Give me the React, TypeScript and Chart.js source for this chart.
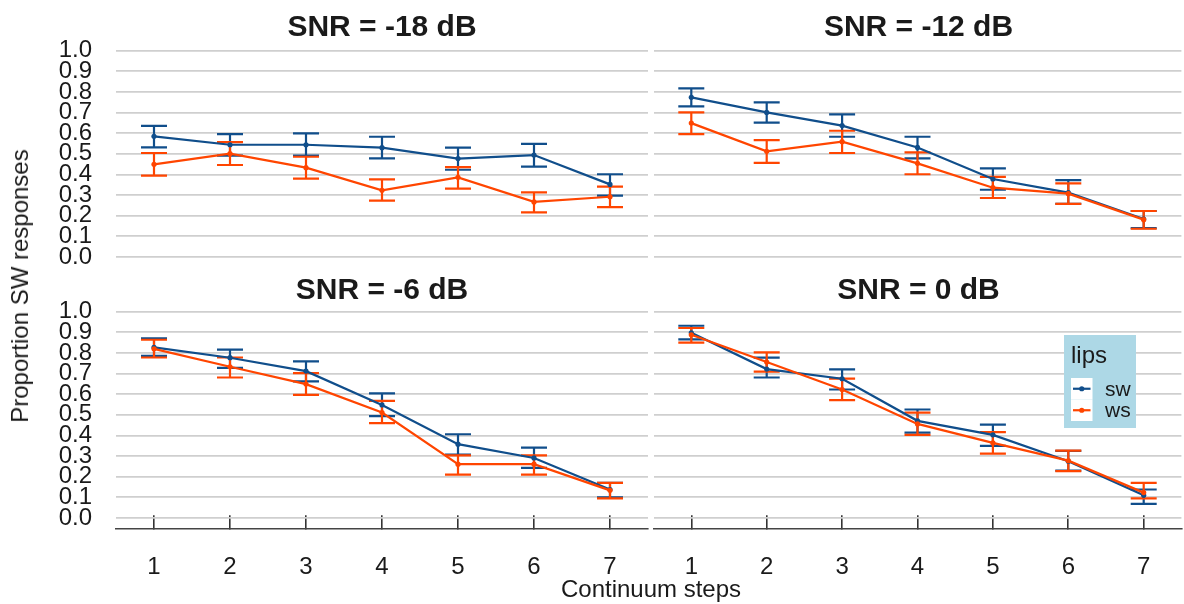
import React, { useEffect, useRef } from 'react';
import { Chart, registerables } from 'chart.js';

Chart.register(...registerables);

// ---------- data ----------
const STEPS = [1, 2, 3, 4, 5, 6, 7];
const Y_TICKS = [0, 0.1, 0.2, 0.3, 0.4, 0.5, 0.6, 0.7, 0.8, 0.9, 1.0];
const PANEL_TITLES = ['SNR = -18 dB', 'SNR = -12 dB', 'SNR = -6 dB', 'SNR = 0 dB'];
const SERIES_NAMES = ['sw', 'ws'];
const LEGEND_TITLE = 'lips';
const X_TITLE = 'Continuum steps';
const Y_TITLE = 'Proportion SW responses';

// SNR = -18 dB
const SW_M18 = [0.585, 0.544, 0.544, 0.530, 0.477, 0.494, 0.352];
const SW_M18_LO = [0.531, 0.491, 0.491, 0.478, 0.423, 0.438, 0.297];
const SW_M18_HI = [0.636, 0.596, 0.599, 0.583, 0.530, 0.548, 0.401];
const WS_M18 = [0.449, 0.501, 0.433, 0.323, 0.386, 0.267, 0.292];
const WS_M18_LO = [0.394, 0.446, 0.380, 0.273, 0.331, 0.216, 0.242];
const WS_M18_HI = [0.504, 0.557, 0.486, 0.376, 0.436, 0.313, 0.341];

// SNR = -12 dB
const SW_M12 = [0.774, 0.701, 0.637, 0.531, 0.378, 0.312, 0.184];
const SW_M12_LO = [0.730, 0.651, 0.583, 0.478, 0.326, 0.258, 0.140];
const SW_M12_HI = [0.817, 0.750, 0.691, 0.583, 0.430, 0.373, 0.223];
const WS_M12 = [0.649, 0.512, 0.559, 0.454, 0.336, 0.307, 0.181];
const WS_M12_LO = [0.596, 0.456, 0.504, 0.401, 0.286, 0.257, 0.137];
const WS_M12_HI = [0.701, 0.567, 0.612, 0.507, 0.388, 0.357, 0.223];

// SNR = -6 dB
const SW_M6 = [0.827, 0.777, 0.712, 0.548, 0.358, 0.291, 0.138];
const SW_M6_LO = [0.786, 0.728, 0.662, 0.494, 0.307, 0.243, 0.100];
const SW_M6_HI = [0.871, 0.816, 0.759, 0.604, 0.406, 0.341, 0.170];
const WS_M6 = [0.820, 0.733, 0.649, 0.511, 0.261, 0.261, 0.134];
const WS_M6_LO = [0.778, 0.681, 0.597, 0.460, 0.210, 0.210, 0.095];
const WS_M6_HI = [0.864, 0.778, 0.702, 0.568, 0.304, 0.304, 0.170];

// SNR = 0 dB
const SW_0 = [0.898, 0.722, 0.675, 0.471, 0.403, 0.275, 0.110];
const SW_0_LO = [0.866, 0.681, 0.623, 0.414, 0.350, 0.230, 0.068];
const SW_0_HI = [0.932, 0.777, 0.720, 0.526, 0.453, 0.325, 0.138];
const WS_0 = [0.888, 0.756, 0.623, 0.456, 0.364, 0.278, 0.123];
const WS_0_LO = [0.850, 0.710, 0.571, 0.403, 0.312, 0.227, 0.095];
const WS_0_HI = [0.921, 0.803, 0.676, 0.511, 0.416, 0.327, 0.170];

// ---------- styles ----------
const COLORS = ['#104E8B', '#FF4500'];
const FONT = '"Liberation Sans", Arial, sans-serif';
const TEXT = '#1a1a1a';

Chart.defaults.font.family = FONT;

const errorBarPlugin = {
  id: 'errorBars',
  beforeDatasetsDraw(chart: any) {
    const ctx = chart.ctx;
    const xs = chart.scales.x;
    const ys = chart.scales.y;
    const list = [...chart.data.datasets].sort((a: any, b: any) => b.order - a.order);
    list.forEach((ds: any) => {
      ctx.save();
      ctx.strokeStyle = ds.borderColor;
      ctx.lineWidth = 2.2;
      ds.data.forEach((p: any, i: number) => {
        const x = xs.getPixelForValue(p.x);
        const y1 = ys.getPixelForValue(ds.errLow[i]);
        const y2 = ys.getPixelForValue(ds.errHigh[i]);
        const w = 13;
        ctx.beginPath();
        ctx.moveTo(x, y1);
        ctx.lineTo(x, y2);
        ctx.moveTo(x - w, y1);
        ctx.lineTo(x + w, y1);
        ctx.moveTo(x - w, y2);
        ctx.lineTo(x + w, y2);
        ctx.stroke();
      });
      ctx.restore();
    });
  },
};

const legendPlugin = {
  id: 'lipsLegend',
  afterDraw(chart: any, _args: any, opts: any) {
    if (!opts || !opts.show) return;
    const ctx = chart.ctx;
    const { x, y, w, h } = opts.box;
    ctx.save();
    ctx.fillStyle = '#ADD8E6';
    ctx.fillRect(x, y, w, h);
    ctx.fillStyle = TEXT;
    ctx.textAlign = 'left';
    ctx.textBaseline = 'middle';
    ctx.font = `24px ${FONT}`;
    ctx.fillText(opts.title, x + 7, y + 21);
    chart.data.datasets.forEach((ds: any, i: number) => {
      const ky = y + 43 + i * 21.5;
      ctx.fillStyle = '#ffffff';
      ctx.fillRect(x + 7, ky, 21.5, 21.5);
      ctx.strokeStyle = ds.borderColor;
      ctx.lineWidth = 2.2;
      ctx.beginPath();
      ctx.moveTo(x + 9, ky + 10.75);
      ctx.lineTo(x + 26.5, ky + 10.75);
      ctx.stroke();
      ctx.fillStyle = ds.borderColor;
      ctx.beginPath();
      ctx.arc(x + 17.75, ky + 10.75, 2.6, 0, Math.PI * 2);
      ctx.fill();
      ctx.fillStyle = TEXT;
      ctx.font = `21px ${FONT}`;
      ctx.fillText(ds.label, x + 41, ky + 12);
    });
    ctx.restore();
  },
};

type PanelLayout = {
  left: number; top: number; w: number; h: number;
  pad: { top: number; right: number; bottom: number; left: number };
  yWidth: number; yLabels: boolean; xAxis: boolean; xHeight: number;
  legend: boolean;
};

const LAYOUT: PanelLayout[] = [
  { left: 0, top: 0, w: 651, h: 290, pad: { top: 40.4, right: 3, bottom: 22.7, left: 0 }, yWidth: 116, yLabels: true, xAxis: false, xHeight: 0, legend: false },
  { left: 651, top: 0, w: 533, h: 290, pad: { top: 40.4, right: 0, bottom: 22.7, left: 0 }, yWidth: 2, yLabels: false, xAxis: false, xHeight: 0, legend: false },
  { left: 0, top: 280, w: 651, h: 324, pad: { top: 21.4, right: 3, bottom: 0, left: 0 }, yWidth: 116, yLabels: true, xAxis: true, xHeight: 75.7, legend: false },
  { left: 651, top: 280, w: 533, h: 324, pad: { top: 21.4, right: 0, bottom: 0, left: 0 }, yWidth: 2, yLabels: false, xAxis: true, xHeight: 75.7, legend: true },
];

const PANEL_DATA = [
  { sw: SW_M18, swLo: SW_M18_LO, swHi: SW_M18_HI, ws: WS_M18, wsLo: WS_M18_LO, wsHi: WS_M18_HI },
  { sw: SW_M12, swLo: SW_M12_LO, swHi: SW_M12_HI, ws: WS_M12, wsLo: WS_M12_LO, wsHi: WS_M12_HI },
  { sw: SW_M6, swLo: SW_M6_LO, swHi: SW_M6_HI, ws: WS_M6, wsLo: WS_M6_LO, wsHi: WS_M6_HI },
  { sw: SW_0, swLo: SW_0_LO, swHi: SW_0_HI, ws: WS_0, wsLo: WS_0_LO, wsHi: WS_0_HI },
];

function makeDataset(label: string, color: string, vals: number[], lo: number[], hi: number[], order: number) {
  return {
    label,
    data: STEPS.map((s, i) => ({ x: s, y: vals[i] })),
    borderColor: color,
    backgroundColor: color,
    pointBackgroundColor: color,
    pointBorderWidth: 0,
    pointRadius: 2.6,
    pointHoverRadius: 2.6,
    borderWidth: 2.2,
    tension: 0,
    order,
    errLow: lo,
    errHigh: hi,
  };
}

function makeConfig(i: number): any {
  const L = LAYOUT[i];
  const D = PANEL_DATA[i];
  return {
    type: 'line',
    data: {
      datasets: [
        makeDataset(SERIES_NAMES[0], COLORS[0], D.sw, D.swLo, D.swHi, 1),
        makeDataset(SERIES_NAMES[1], COLORS[1], D.ws, D.wsLo, D.wsHi, 0),
      ],
    },
    options: {
      animation: false,
      responsive: false,
      events: [],
      layout: { padding: L.pad },
      plugins: {
        legend: { display: false },
        tooltip: { enabled: false },
        title: { display: false },
        lipsLegend: { show: L.legend, title: LEGEND_TITLE, box: { x: 413, y: 55, w: 72, h: 93 } },
      },
      scales: {
        x: {
          type: 'linear',
          min: 0.5,
          max: 7.5,
          display: L.xAxis,
          z: 1,
          afterBuildTicks: (s: any) => { s.ticks = STEPS.map((v) => ({ value: v })); },
          afterFit: (s: any) => { s.height = L.xHeight; },
          grid: { drawOnChartArea: false, tickLength: -13, tickColor: '#333333', tickWidth: 1.6, color: '#333333', lineWidth: 1.6 },
          border: { display: true, color: '#444444', width: 1.5 },
          ticks: { padding: 26, autoSkip: false, maxRotation: 0, color: TEXT, font: { family: FONT, size: 24, lineHeight: 2.2 }, callback: (v: any) => String(v) },
        },
        y: {
          type: 'linear',
          min: -0.05,
          max: 1.05,
          afterBuildTicks: (s: any) => { s.ticks = Y_TICKS.map((v) => ({ value: v })); },
          afterFit: (s: any) => { s.width = L.yWidth; },
          grid: { color: '#CFCFCF', lineWidth: 1.8, drawTicks: L.yLabels, tickLength: 24, tickColor: 'rgba(0,0,0,0)' },
          border: { display: false },
          ticks: {
            display: L.yLabels,
            autoSkip: false,
            padding: 0,
            color: TEXT,
            font: { family: FONT, size: 24 },
            callback: (v: any) => Number(v).toFixed(1),
          },
        },
      },
    },
    plugins: [errorBarPlugin, legendPlugin],
  };
}

const TITLE_POS = [
  { left: 116, width: 532, top: 11.4 },
  { left: 653, width: 531, top: 11.4 },
  { left: 116, width: 532, top: 274.4 },
  { left: 653, width: 531, top: 274.4 },
];

export default function App() {
  const r0 = useRef<HTMLCanvasElement>(null);
  const r1 = useRef<HTMLCanvasElement>(null);
  const r2 = useRef<HTMLCanvasElement>(null);
  const r3 = useRef<HTMLCanvasElement>(null);
  const refs = [r0, r1, r2, r3];

  useEffect(() => {
    const charts = refs.map((r, i) => new Chart(r.current as HTMLCanvasElement, makeConfig(i)));
    return () => charts.forEach((c) => c.destroy());
  }, []);

  return (
    <div style={{ position: 'absolute', left: 0, top: 0, width: 1184, height: 604, background: '#ffffff', overflow: 'hidden', fontFamily: FONT, color: TEXT }}>
      {LAYOUT.map((L, i) => (
        <canvas
          key={i}
          ref={refs[i]}
          width={L.w}
          height={L.h}
          style={{ position: 'absolute', left: L.left, top: L.top, width: L.w, height: L.h }}
        />
      ))}
      {PANEL_TITLES.map((t, i) => (
        <div
          key={t}
          style={{
            position: 'absolute', left: TITLE_POS[i].left, top: TITLE_POS[i].top, width: TITLE_POS[i].width,
            textAlign: 'center', fontSize: 30, lineHeight: '30px', fontWeight: 'bold', whiteSpace: 'nowrap',
          }}
        >
          {t}
        </div>
      ))}
      <div
        style={{
          position: 'absolute', left: 20, top: 286, transform: 'translate(-50%, -50%) rotate(-90deg)',
          fontSize: 24, lineHeight: '24px', whiteSpace: 'nowrap',
        }}
      >
        {Y_TITLE}
      </div>
      <div
        style={{
          position: 'absolute', left: 0, width: 1302, top: 577, textAlign: 'center',
          fontSize: 24, lineHeight: '24px', whiteSpace: 'nowrap',
        }}
      >
        {X_TITLE}
      </div>
    </div>
  );
}
